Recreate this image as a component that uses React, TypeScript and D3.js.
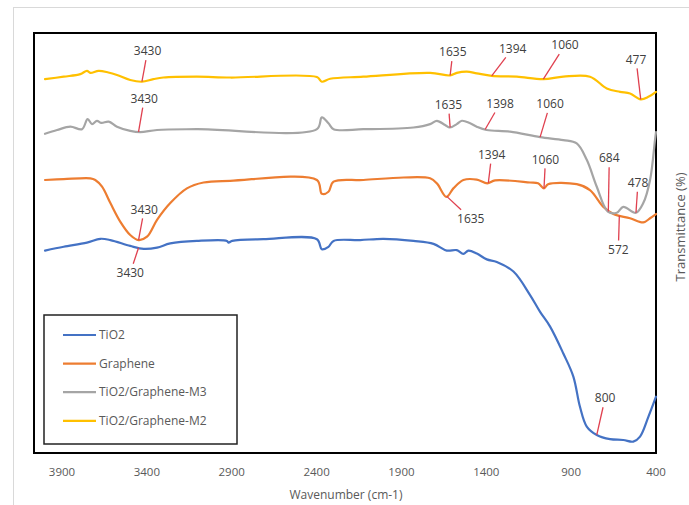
import React from "react";
import * as d3 from "d3";

type Pt = [number, number];

// [wavenumber cm-1, transmittance %]
const tio2: Pt[] = [
  [4000, 48.2], [3890, 49.1], [3753, 50.1], [3674, 51.0], [3615, 50.7], [3498, 49.3],
  [3419, 48.6], [3340, 48.9], [3262, 49.9], [3105, 50.5], [2928, 50.5], [2919, 50.1],
  [2897, 50.5], [2713, 50.9], [2398, 50.9], [2369, 48.5], [2330, 49.1], [2300, 50.5],
  [2143, 50.7], [2006, 51.0], [1829, 50.5], [1711, 49.8], [1633, 48.2], [1574, 48.3],
  [1535, 47.4], [1505, 48.2], [1456, 47.5], [1397, 46.1], [1338, 45.5], [1240, 43.2],
  [1142, 37.6], [1083, 33.6], [1024, 30.1], [946, 23.7], [887, 18.2], [848, 11.0],
  [808, 6.3], [749, 4.3], [671, 3.3], [593, 3.1], [534, 2.7], [494, 3.9], [445, 8.6],
  [400, 13.4],
];

const graphene: Pt[] = [
  [4000, 65.0], [3890, 65.2], [3733, 65.4], [3704, 65.0], [3664, 63.4], [3615, 59.5],
  [3557, 55.1], [3498, 51.9], [3449, 50.7], [3399, 51.5], [3340, 55.5], [3262, 59.5],
  [3164, 63.0], [3066, 64.4], [2909, 64.8], [2398, 65.0], [2369, 61.7], [2330, 62.2],
  [2300, 64.6], [2124, 65.0], [1888, 65.6], [1731, 65.4], [1691, 64.2], [1635, 61.0],
  [1594, 63.0], [1535, 65.0], [1456, 65.1], [1394, 64.2], [1348, 64.9], [1142, 64.4],
  [1095, 64.2], [1060, 63.0], [1036, 64.0], [867, 64.0], [789, 62.6], [710, 58.6],
  [651, 56.9], [553, 55.9], [475, 54.9], [435, 55.9], [400, 56.9],
];

const m3: Pt[] = [
  [4000, 76.0], [3929, 76.9], [3851, 77.7], [3782, 77.1], [3749, 79.5], [3723, 78.3],
  [3694, 79.1], [3668, 78.6], [3625, 78.9], [3576, 77.7], [3498, 76.7], [3439, 76.4],
  [3340, 76.9], [3105, 77.1], [2398, 77.1], [2369, 79.9], [2330, 78.5], [2300, 77.1],
  [2124, 77.1], [1829, 77.5], [1731, 78.3], [1691, 79.1], [1643, 78.1], [1615, 77.5],
  [1574, 78.3], [1544, 79.1], [1495, 78.5], [1456, 77.7], [1398, 76.9], [1260, 76.5],
  [1083, 75.2], [946, 74.5], [867, 73.7], [808, 69.8], [749, 63.4], [684, 57.5],
  [631, 57.2], [593, 58.6], [518, 57.2], [475, 59.5], [435, 65.0], [406, 74.5],
  [400, 76.4],
];

const m2: Pt[] = [
  [4000, 89.0], [3890, 89.6], [3792, 90.2], [3753, 91.0], [3733, 90.5], [3684, 91.0],
  [3627, 90.6], [3576, 90.0], [3498, 88.8], [3429, 88.4], [3362, 89.0], [3303, 89.4],
  [3105, 89.6], [2909, 89.4], [2398, 89.5], [2369, 88.4], [2320, 89.1], [2125, 89.6],
  [1731, 90.5], [1613, 89.9], [1574, 90.5], [1515, 90.8], [1456, 90.4], [1368, 89.8],
  [1220, 89.6], [1064, 89.0], [946, 89.6], [789, 89.6], [690, 86.8], [612, 86.0],
  [553, 85.6], [490, 84.2], [445, 84.8], [400, 86.0],
];

const seriesData = [tio2, graphene, m3, m2];
const seriesNames = ["TiO2", "Graphene", "TiO2/Graphene-M3", "TiO2/Graphene-M2"];
const seriesColors = ["#4472C4", "#ED7D31", "#A5A5A5", "#FFC000"];
const xTicks = [3900, 3400, 2900, 2400, 1900, 1400, 900, 400];

// peak labels: series, text, wavenumber where the leader touches the curve
const peakSeries = [3, 3, 3, 3, 3, 2, 2, 2, 2, 2, 2, 1, 1, 1, 1, 1, 0, 0];
const peakText = ["3430", "1635", "1394", "1060", "477", "3430", "1635", "1398", "1060", "684", "478",
  "3430", "1394", "1060", "1635", "572", "3430", "800"];
const peakWn = [3429, 1613, 1368, 1064, 490, 3449, 1613, 1407, 1083, 681, 518,
  3449, 1388, 1060, 1633, 616, 3449, 749];
// label centre relative to the touch point (px)
const peakOffsets: Pt[] = [
  [5.6, -30.6], [2.7, -23.3], [21, -27.4], [21.7, -34], [-4.7, -40],
  [5.7, -33.3], [-1.7, -22.7], [15, -26], [10, -33.3], [1, -53.4], [2, -30],
  [5.7, -30.7], [3.4, -28.3], [1.5, -29], [24, 22.4], [-1, 34],
  [-8.3, 25], [8.3, -36.7],
];

const W = 689;
const H = 505;
const plot = { left: 34, top: 33, right: 656, bottom: 453 };
const font = "'Open Sans', 'Liberation Sans', sans-serif";

function valueAt(data: Pt[], wn: number) {
  for (let i = 0; i < data.length - 1; i++) {
    const [w0, t0] = data[i];
    const [w1, t1] = data[i + 1];
    if (wn <= w0 && wn >= w1) return t0 + ((t1 - t0) * (wn - w0)) / (w1 - w0);
  }
  return data[data.length - 1][1];
}

export default function App() {
  const x = d3.scaleLinear().domain([4065, 400]).range([plot.left, plot.right]);
  const y = d3.scaleLinear().domain([0, 100]).range([plot.bottom, plot.top]);

  const line = d3
    .line<Pt>()
    .x((d) => x(d[0]))
    .y((d) => y(d[1]))
    .curve(d3.curveCatmullRom.alpha(0.5));

  const legendRows = seriesNames.map((n, i) => ({ n, c: seriesColors[i], cy: 335 + i * 28.6 }));

  return (
    <div style={{ position: "absolute", left: 0, top: 0 }}>
      <svg width={W} height={H} style={{ display: "block", background: "#fff" }}>
        <rect x={13.5} y={7.5} width={720} height={540} fill="none" stroke="#d9d9d9" strokeWidth={1} />
        <rect
          x={plot.left}
          y={plot.top}
          width={plot.right - plot.left}
          height={plot.bottom - plot.top}
          fill="#fff"
          stroke="#000"
          strokeWidth={2}
        />

        {seriesData.map((d, i) => (
          <path
            key={seriesNames[i]}
            d={line(d) || ""}
            fill="none"
            stroke={seriesColors[i]}
            strokeWidth={2.2}
            strokeLinejoin="round"
            strokeLinecap="round"
          />
        ))}

        {peakText.map((t, i) => {
          const wn = peakWn[i];
          const ax = x(wn);
          const ay = y(valueAt(seriesData[peakSeries[i]], wn));
          const [dx, dy] = peakOffsets[i];
          const lx = ax + dx;
          const ly = ay + dy;
          const k = Math.min(9 / Math.abs(dy), dx === 0 ? 1 : 16 / Math.abs(dx));
          const sx = lx - dx * k;
          const sy = ly - dy * k;
          return (
            <g key={i}>
              <line x1={sx} y1={sy} x2={ax} y2={ay} stroke="#E0404F" strokeWidth={1.3} />
              <text
                x={lx}
                y={ly}
                dy="0.35em"
                textAnchor="middle"
                fontFamily={font}
                fontSize={12}
                fill="#404040"
              >
                {t}
              </text>
            </g>
          );
        })}

        {xTicks.map((t) => (
          <text
            key={t}
            x={x(t)}
            y={476}
            textAnchor="middle"
            fontFamily={font}
            fontSize={11.5}
            fill="#595959"
          >
            {t}
          </text>
        ))}

        <text x={346} y={499} textAnchor="middle" fontFamily={font} fontSize={12} fill="#595959">
          Wavenumber (cm-1)
        </text>
        <text
          transform="translate(680,227) rotate(-90)"
          textAnchor="middle"
          dy="0.35em"
          fontFamily={font}
          fontSize={13}
          fill="#595959"
        >
          Transmittance (%)
        </text>

        <rect x={44} y={315} width={193} height={129} fill="#fff" stroke="#222" strokeWidth={1.5} />
        {legendRows.map((r) => (
          <g key={r.n}>
            <line x1={63} x2={96} y1={r.cy} y2={r.cy} stroke={r.c} strokeWidth={2.2} />
            <text x={99} y={r.cy} dy="0.35em" fontFamily={font} fontSize={12} fill="#595959">
              {r.n}
            </text>
          </g>
        ))}
      </svg>
    </div>
  );
}
